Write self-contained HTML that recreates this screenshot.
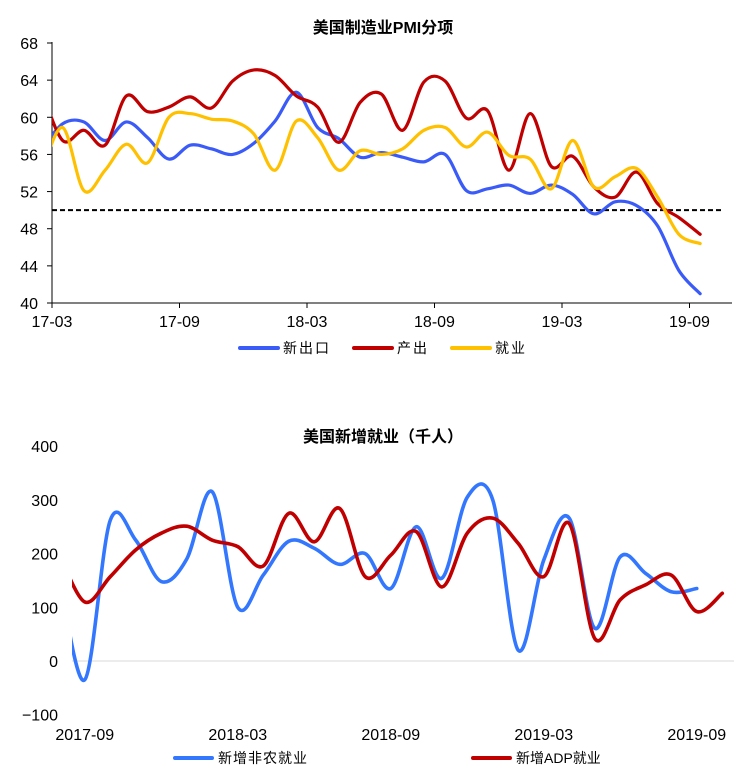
<!DOCTYPE html>
<html><head><meta charset="utf-8">
<style>
body{margin:0;background:#fff;}
svg{display:block;font-family:"Liberation Sans","Noto Sans CJK SC",sans-serif;}
.cjk{font-family:"Liberation Sans","Noto Sans CJK SC",sans-serif;}
</style></head>
<body>
<svg id="root" width="746" height="772" viewBox="0 0 746 772">
<defs>
<clipPath id="c1"><rect x="52" y="0" width="690" height="360"/></clipPath>
<clipPath id="c2"><rect x="72" y="430" width="670" height="330"/></clipPath>
</defs>
<text x="383" y="33" text-anchor="middle" font-size="16" font-weight="bold" class="cjk">美国制造业PMI分项</text>
<g id="pmiG"></g>
<g>
<line x1="240" y1="348" x2="278" y2="348" stroke="#3a5bf7" stroke-width="4" stroke-linecap="round"/>
<text x="283" y="353" font-size="14" letter-spacing="2">新出口</text>
<line x1="354" y1="348" x2="392" y2="348" stroke="#c00000" stroke-width="4" stroke-linecap="round"/>
<text x="397" y="353" font-size="14" letter-spacing="2">产出</text>
<line x1="452" y1="348" x2="490" y2="348" stroke="#ffc000" stroke-width="4" stroke-linecap="round"/>
<text x="495" y="353" font-size="14" letter-spacing="2">就业</text>
</g>
<text x="383" y="442" text-anchor="middle" font-size="16" font-weight="bold" class="cjk">美国新增就业（千人）</text>
<g id="jobsG"></g>
<g>
<line x1="175" y1="758" x2="212" y2="758" stroke="#3377ff" stroke-width="4" stroke-linecap="round"/>
<text x="218" y="763" font-size="14" letter-spacing="1">新增非农就业</text>
<line x1="473" y1="758" x2="510" y2="758" stroke="#c00000" stroke-width="4" stroke-linecap="round"/>
<text x="516" y="763" font-size="14">新增ADP就业</text>
</g>
</svg>
<script>
// ---- top chart data (index -1 = 17-02, clipped) ----
const pmiStart = -1;
const pmiExport = [56.5,59.3,59.5,57.5,59.5,57.8,55.5,57,56.6,56,57.2,59.6,62.7,58.9,57.7,55.7,56.2,55.7,55.2,56.0,52.1,52.3,52.7,51.8,52.7,51.7,49.6,50.9,50.5,48.3,43.5,41];
const pmiProduction = [63,57.5,58.6,57,62.3,60.6,61.1,62.2,61,63.9,65.1,64.5,62.3,61.1,57.3,61.6,62.5,58.6,63.8,63.9,59.9,60.7,54.3,60.4,54.7,55.8,52.5,51.4,54.1,50.7,49.2,47.4];
const pmiEmployment = [54,58.9,52.1,54.3,57.1,55.1,60,60.4,59.8,59.6,58.2,54.3,59.6,57.8,54.3,56.4,56,56.6,58.6,58.9,56.8,58.4,55.9,55.5,52.3,57.5,52.5,53.6,54.5,51.4,47.4,46.4];
const pmiYTicks = [40,44,48,52,56,60,64,68];
const pmiXTickIdx = [0,6,12,18,24,30];
const pmiXTickLabels = ["17-03","17-09","18-03","18-09","19-03","19-09"];
const pmiThreshold = 50;
// ---- bottom chart data (index -1 = 2017-08, clipped) ----
const jobsStart = -1;
const jobsNonfarm = [160,-35,262,225,148,190,315,100,160,223,210,180,200,135,250,154,305,300,20,188,266,61,194,163,129,135];
const jobsADP = [200,110,157,207,238,251,225,213,177,275,222,284,157,197,241,138,238,266,219,157,256,42,114,142,160,92,126];
const jobsYTicks = [-100,0,100,200,300,400];
const jobsXTickIdx = [0,6,12,18,24];
const jobsXTickLabels = ["2017-09","2018-03","2018-09","2019-03","2019-09"];

const NS="http://www.w3.org/2000/svg";
function mk(tag,attrs,parent){const e=document.createElementNS(NS,tag);for(const k in attrs)e.setAttribute(k,attrs[k]);parent.appendChild(e);return e;}
function smooth(pts){let d="M"+pts[0][0]+","+pts[0][1];for(let i=0;i<pts.length-1;i++){const p0=pts[i-1]||pts[i],p1=pts[i],p2=pts[i+1],p3=pts[i+2]||p2;const t=6;d+=" C"+(p1[0]+(p2[0]-p0[0])/t)+","+(p1[1]+(p2[1]-p0[1])/t)+" "+(p2[0]-(p3[0]-p1[0])/t)+","+(p2[1]-(p3[1]-p1[1])/t)+" "+p2[0]+","+p2[1];}return d;}

const tx0=52, tcw=21.25;
const txTick=i=>tx0+i*tcw;
const txData=i=>tx0+(i+0.5)*tcw;
const ty=v=>303-(v-40)*(260/28);
const pmiG=document.getElementById('pmiG');
pmiYTicks.forEach(v=>{
  const t=mk('text',{x:38,y:ty(v)+6,'text-anchor':'end','font-size':16},pmiG);t.textContent=v;
  
  
  const l=mk('line',{x1:47,x2:52,y1:ty(v),y2:ty(v),stroke:'#000'},pmiG);
  
  
});
pmiXTickIdx.forEach((ix,k)=>{
  const x=txTick(ix);
  const l=mk('line',{x1:x,x2:x,y1:303,y2:308,stroke:'#000'},pmiG);
  
  
  const t=mk('text',{x:x,y:327,'text-anchor':'middle','font-size':16},pmiG);t.textContent=pmiXTickLabels[k];
  
  
});
const ya=mk('line',{x1:52,x2:52,y1:42,y2:303,stroke:'#000'},pmiG);


const xa=mk('line',{x1:52,x2:732,y1:303,y2:303,stroke:'#000'},pmiG);


const th=mk('line',{x1:52,x2:723,y1:ty(pmiThreshold),y2:ty(pmiThreshold),stroke:'#000','stroke-width':2,'stroke-dasharray':'5,3'},pmiG);


[[pmiExport,'#3a5bf7','pmi-new-export-line'],[pmiProduction,'#c00000','pmi-production-line'],[pmiEmployment,'#ffc000','pmi-employment-line']].forEach(([arr,c,n])=>{
  const pts=arr.map((v,i)=>[txData(i+pmiStart),ty(v)]);
  const p=mk('path',{d:smooth(pts),fill:'none',stroke:c,'stroke-width':3.2,'clip-path':'url(#c1)','stroke-linecap':'round'},pmiG);
  
  
});

const bx0=72,bcw=25.5;
const bx=i=>bx0+(i+0.5)*bcw;
const by=v=>661-v*0.537;
const jobsG=document.getElementById('jobsG');
jobsYTicks.forEach(v=>{
  const t=mk('text',{x:58,y:by(v)+6,'text-anchor':'end','font-size':16},jobsG);t.textContent=v<0?'−'+(-v):v;
  
  
});
const zl=mk('line',{x1:72,x2:734,y1:by(0),y2:by(0),stroke:'#d9d9d9','stroke-width':1},jobsG);


jobsXTickIdx.forEach((ix,k)=>{
  const t=mk('text',{x:bx(ix),y:740,'text-anchor':'middle','font-size':16},jobsG);t.textContent=jobsXTickLabels[k];
  
  
});
[[jobsNonfarm,'#3377ff','jobs-nonfarm-line'],[jobsADP,'#c00000','jobs-adp-line']].forEach(([arr,c,n])=>{
  const pts=arr.map((v,i)=>[bx(i+jobsStart),by(v)]);
  const p=mk('path',{d:smooth(pts),fill:'none',stroke:c,'stroke-width':3.6,'clip-path':'url(#c2)','stroke-linecap':'round'},jobsG);
  
  
});
</script>
</body></html>
